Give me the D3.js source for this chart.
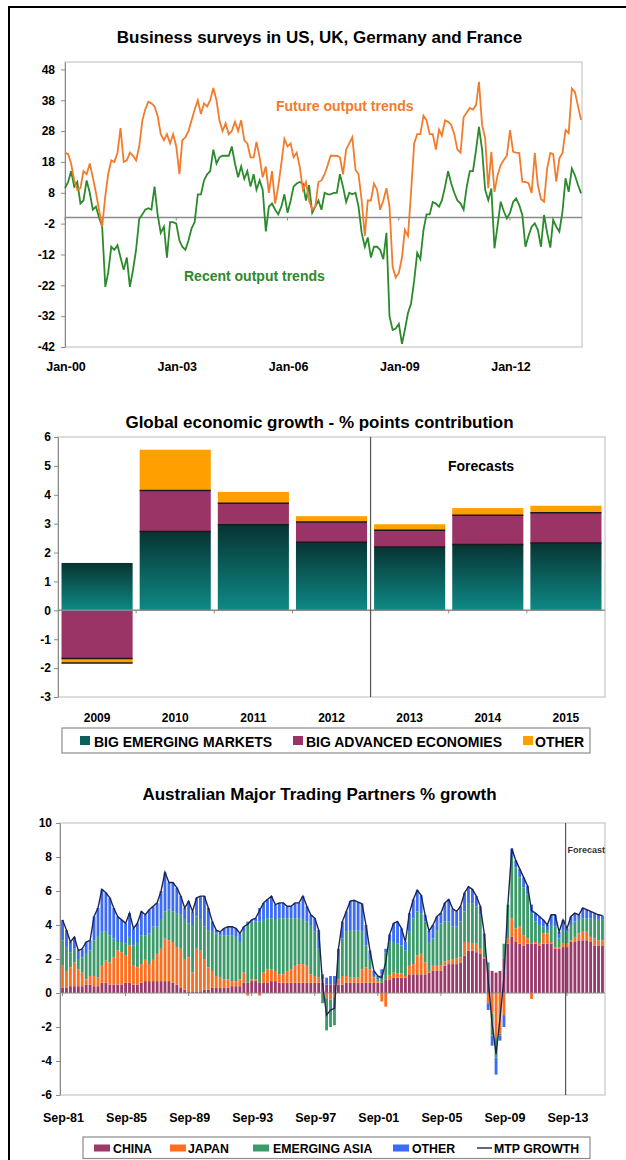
<!DOCTYPE html>
<html>
<head>
<meta charset="utf-8">
<script src="https://cdn.jsdelivr.net/npm/d3@7"></script>
<style>
  body { margin: 0; background: #fff; }
  svg { display: block; }
  text { font-family: "Liberation Sans", Arial, sans-serif; font-weight: bold; fill: #000; }
</style>
</head>
<body>
<script>

// business surveys, monthly values starting Jan-00
var surveyStart = new Date(2000, 0, 1);
var futureOutput = [
  21, 20.5, 17.5, 12, 9, 9.5, 15, 14, 17.5, 13,
  8, 2.5, -3, 7, 14, 18.5, 18, 21, 29, 18,
  18.5, 21, 20, 18.5, 23, 31.5, 35, 37.5, 37, 36,
  33, 27, 25, 27, 24, 27, 23, 14, 25, 26,
  28, 31.5, 35, 38, 33.5, 37, 36, 38, 42, 38,
  31.5, 28, 30.5, 27, 28, 31, 28, 31.5, 25, 24,
  19.5, 19.5, 24.5, 19.5, 13, 16.5, 8, 15, 4.5, 10,
  17.5, 25.5, 23, 24, 19.5, 21, 16.5, 9, 11.5, 5.5,
  2.5, 3.5, 11.5, 12, 14, 17, 20, 20, 20, 19.5,
  14, 22, 24, 26, 15.5, 14, 5.5, -6, 5.5, 5.5,
  11, 9, 2.5, 5.5, 9.5, 3.5, -16, -19.5, -18, -13,
  -4, -6, 8, 24, 27, 27, 33, 31.5, 27, 27,
  22, 28.5, 26.5, 31.5, 31, 30, 27, 22, 21, 32.5,
  34, 35.5, 35, 36.5, 44, 30, 25.7, 9.5, 21.3, 8.3,
  13.8, 17, 18.6, 20, 28.3, 21.3, 21, 20.9, 11.6, 11.5,
  11.1, 7.9, 20.9, 10.5, 6, 5.1, 15.9, 20.9, 20.5, 11.6,
  19.2, 20.9, 28.3, 27.3, 41.8, 40.7, 36, 31.6
];
var recentOutput = [
  9.5, 11.5, 15, 10, 11.5, 4.5, 5.5, 12, 8, 2.5,
  3.5, 0, -3, -22.5, -18, -9.5, -10.5, -9, -13, -17,
  -13, -22.5, -17, -10.5, -0.5, 1, 2.5, 3, 2.5, 10,
  1, -5, -3, -13, -1.5, -1.5, -2, -7.5, -9.5, -10.5,
  -7.5, -3.5, -1.5, 7.5, 7.5, 12, 14, 15, 22, 17.5,
  19.5, 20, 20, 20, 23, 17.5, 13, 16.5, 12.5, 15,
  10, 14, 9, 12, 9, -4.5, 3.5, 4.5, 2.5, 1,
  3.5, 7.5, 1.5, 5.5, 10, 11, 11.5, 11, 5.5, 10.5,
  1.5, 3.5, 5.5, 2.5, 8, 7.5, 7.5, 8, 8, 14,
  10, 5, 8, 7.5, 8, 3.5, -5, -9.5, -6.5, -13,
  -9.5, -9.5, -10.5, -13.5, -5, -32, -36.5, -36, -34.5, -41,
  -36.5, -31, -28, -20.5, -11.5, -13.5, -4, 1, 1, 5,
  4.5, 3.5, 5.5, 10, 15, 11, 8, 5.5, 4.5, 2.5,
  10, 15, 15, 22, 29.4, 22, 9, 5.6, 9.4, -10,
  -2.5, 5.1, 2, -0.3, 1.5, 5, 6.2, 4, 0.8, -9.5,
  -6, -3, -1.9, -4, -9.5, 0.8, -5, -9.8, -0.8, -3,
  -4.6, 2, 12.7, 8.3, 15.9, 13.7, 10.5, 7.8
];
var surveyTickYears = [2000, 2003, 2006, 2009, 2012];
var surveyYTicks = [-42, -32, -22, -12, -2, 8, 18, 28, 38, 48];

// global growth, % points contribution
var growthYears = ["2009", "2010", "2011", "2012", "2013", "2014", "2015"];
var bigEmerging = [1.64, 2.73, 2.96, 2.36, 2.19, 2.28, 2.33];
var bigAdvanced = [-1.67, 1.42, 0.75, 0.70, 0.58, 1.01, 1.05];
var otherEconomies = [-0.15, 1.41, 0.39, 0.20, 0.21, 0.25, 0.24];
var growthYTicks = [-3, -2, -1, 0, 1, 2, 3, 4, 5, 6];

// australian major trading partners, quarterly from Sep-81
var mtpStart = new Date(1981, 8, 1);
var mtpChina = [
  .3, .3, .4, .4, .4, .4, .5, .5, .4, .4, .6, .6, .5, .5, .5, .5, .6, .6, .5, .5,
  .6, .7, .7, .7, .7, .7, .7, .7, .6, .5, .3, .2, .1, .1, .1, .1,
  .2, .2, .3, .3, .3, .3, .3, .4, .4, .4, .6, .6, .7, .7, .6, .6, .6, .7, .7, .6,
  .6, .6, .6, .6, .6, .6, .6, .6, .6, .6,
  .6, .5, .5, .5, .5, .5, .6, .6,
  .6, .6, .6, .6, .6, .6, .6, .6, .8, .8, .9, .9, .9, .9, 1.1, 1.1, 1.1, 1.1, 1.1,
  1.2, 1.3, 1.3, 1.3, 1.6, 1.7, 1.7, 1.7, 1.8, 2.2, 2.5, 2.5, 2.4, 2.3, 2.0,
  1.4, 1.3, 1.2, 1.3, 2.0, 2.9, 3.3, 3.0, 2.9, 2.8, 2.9, 2.9,
  2.9, 2.8, 2.9, 2.9, 2.9, 2.6, 2.6, 2.7, 2.7, 3.0, 3.0, 3.1, 3.1, 3.1, 3.0, 2.8, 2.8, 2.8
];
var mtpJapan = [
  1.3, 1.0, 1.1, 1.4, 1.0, .8, .3, .5, .6, .5, 1.0, 1.3, 1.3, 1.6, 2.0, 1.9, 1.6, 2.2, 1.1, 1.0,
  1.1, 1.3, 1.0, 1.3, 1.6, 1.9, 2.5, 2.4, 2.4, 2.2, 2.3, 1.8, 2.0, 1.1, 2.5, 2.4,
  1.8, 1.3, 1.0, .7, .6, .5, .5, .3, .3, .4, .6, -.15, .1, .1, -.15, .6, .8, .7, .6, .5,
  .5, .7, .8, 1.0, 1.1, 1.1, 1.0, .5, .4, .3,
  .2, -.3, -.4, -.2, .3, .5, .4, .3,
  .3, .3, .8, .9, .8, .3, .1, -.5, -.8, .25, .3, .25, .25, .1, .5, .6, 1.1, 1.2, .7,
  .1, .3, .3, .3, .25, .2, .3, .35, .3, .8, .5, .4, .5, .3, .1,
  -.6, -1.2, -2.6, -2.4, -1.3, .3, 1.1, .8, 1.0, .6, .3, -.35,
  .1, .1, .6, .6, .1, .1, .1, .2, .2, .1, .3, .4, .5, .5, .3, .4, .3, .3
];
var mtpEmergingAsia = [
  1.5, 1.4, .9, .8, .6, .9, 1.5, 1.5, 2.1, 2.4, 2.0, 1.7, 1.6, 1.1, .5, .6, .7, .5, 1.2, 1.5,
  1.7, 1.4, 1.8, 1.9, 1.6, 1.7, 1.6, 1.8, 1.8, 2.0, 2.0, 2.3, 2.0, 2.8, 1.9, 1.8,
  1.9, 2.2, 2.3, 2.5, 2.5, 2.6, 2.6, 2.7, 2.6, 2.2, 2.4, 3.4, 3.4, 3.4, 3.6, 3.1, 3.0, 3.0, 3.0, 3.3,
  3.3, 3.1, 3.0, 2.8, 2.7, 2.6, 2.6, 2.9, 2.6, 1.7,
  -.6, -1.9, -1.6, -1.7, 1.2, 2.2, 2.6, 2.8,
  2.8, 2.8, 2.2, 1.3, .6, .1, .1, .5, 1.6, 2.0, 1.8, 1.75, 1.65, 1.5, 2.0, 2.7, 2.6, 2.4, 2.4,
  1.7, 1.6, 2.1, 2.5, 2.35, 2.3, 1.9, 1.85, 2.1, 1.8, 2.25, 2.35, 2.2, 2.0, 1.2,
  .4, -1.3, -1.2, -.1, .9, 2.0, 3.6, 3.6, 2.9, 2.8, 2.6, 1.8,
  1.2, 1.1, .4, .2, 1.0, 1.2, .5, .8, .7, .9, .9, .8, .8, .8, 1.1, 1.1, 1.2, 1.2
];
var mtpOther = [
  1.2, 1.0, .6, .7, .5, .5, .7, .6, 1.4, 1.7, 2.5, 2.3, 2.2, 1.8, 1.5, 1.3, 1.2, 1.4, 1.0, 1.1,
  1.4, 1.2, 1.4, 1.2, 1.4, 1.7, 2.3, 1.6, 1.7, 1.5, 1.1, .7, 1.3, .8, 1.1, 1.4,
  1.8, 1.3, .6, .2, .2, .4, .5, .5, .5, .5, .3, .2, .1, .2, .8, 1.0, 1.1, 1.3, .9, .9,
  .9, .7, .7, .9, .9, 1.4, .9, .6, .8, 1.1,
  .3, .4, .5, .5, .6, 1.0, 1.2, 1.7,
  1.75, 1.65, 1.65, 1.2, .5, .3, .2, .3, .2, .4, 1.1, 1.3, 1.0, .5, 1.1, 1.1, 1.25, 1.05, .4,
  .65, .8, .8, .6, 1.1, 1.3, 1.05, .9, .9, 1.1, 1.0, .85, .6, .5, .2,
  -.4, -.6, -1.0, -.3, -.7, 0, .5, .4, .5, .6, .5, .5,
  .5, .5, .4, .3, .6, .7, .4, .6, .2, .5, .5, .3, .6, .5, .4, .4, .3, .25
];
var mtpTickLabels = ["Sep-81", "Sep-85", "Sep-89", "Sep-93", "Sep-97", "Sep-01", "Sep-05", "Sep-09", "Sep-13"];
var mtpForecastFrom = "Sep-13";
var mtpYTicks = [-6, -4, -2, 0, 2, 4, 6, 8, 10];


var svg = d3.select("body")
            .append("svg")
            .attr("width", 626)
            .attr("height", 1160);

// frame round the whole picture
svg.append("path")
   .attr("d", "M9,1160V7H626")
   .attr("fill", "none")
   .attr("stroke", "#000")
   .attr("stroke-width", 2);

function title(txt, y) {
  svg.append("text")
     .attr("x", 319.5)
     .attr("y", y)
     .attr("text-anchor", "middle")
     .style("font-size", "17px")
     .text(txt);
}

// draws the plot box and the left axis with excel-ish styling
function leftAxis(yScale, ticks, left, right, pad) {
  var r = yScale.range();
  svg.append("rect")
     .attr("x", left)
     .attr("y", r[1])
     .attr("width", right - left)
     .attr("height", r[0] - r[1])
     .attr("fill", "none")
     .attr("stroke", "#d2d2d2")
     .attr("stroke-width", 1.5);

  var g = svg.append("g")
     .attr("transform", "translate(" + left + ",0)")
     .call(d3.axisLeft(yScale)
             .tickValues(ticks)
             .tickSize(4)
             .tickPadding(pad)
             .tickSizeOuter(0)
             .tickFormat(function(d) { return String(d); }));
  g.select(".domain").attr("stroke", "#8a8a8a");
  g.selectAll(".tick line").attr("stroke", "#8a8a8a");
  g.selectAll(".tick text")
   .style("font-size", "12px")
   .style("font-family", "'Liberation Sans', Arial, sans-serif")
   .style("font-weight", "bold")
   .attr("fill", "#000");
}


// ---------------- chart 1: business surveys ----------------
title("Business surveys in US, UK, Germany and France", 43);

var surveyX = d3.scaleTime()
                .domain([surveyStart, new Date(2013, 11, 10)])
                .range([65, 582]);
var surveyY = d3.scaleLinear()
                .domain([-42, 50.4])
                .range([347, 62]);

leftAxis(surveyY, surveyYTicks, 65, 582, 6);

// zero line with small ticks
svg.append("line")
   .attr("x1", 65).attr("x2", 582)
   .attr("y1", surveyY(0)).attr("y2", surveyY(0))
   .attr("stroke", "#8a8a8a").attr("stroke-width", 1.5);

surveyTickYears.forEach(function(yr) {
  var d = new Date(yr, 0, 1);
  svg.append("line")
     .attr("x1", surveyX(d)).attr("x2", surveyX(d))
     .attr("y1", surveyY(0)).attr("y2", surveyY(0) + 3)
     .attr("stroke", "#8a8a8a");
  svg.append("text")
     .attr("x", surveyX(d) + 1)
     .attr("y", 371)
     .attr("text-anchor", "middle")
     .style("font-size", "12.5px")
     .text(d3.timeFormat("%b-%y")(d));
});

var surveyLine = d3.line()
                   .x(function(d, i) { return surveyX(d3.timeMonth.offset(surveyStart, i)); })
                   .y(function(d) { return surveyY(d); });

svg.append("path")
   .datum(recentOutput)
   .attr("d", surveyLine)
   .attr("fill", "none")
   .attr("stroke", "#2b8a2b")
   .attr("stroke-width", 1.8);

svg.append("path")
   .datum(futureOutput)
   .attr("d", surveyLine)
   .attr("fill", "none")
   .attr("stroke", "#f27b2c")
   .attr("stroke-width", 1.8);

svg.append("text")
   .attr("x", 276).attr("y", 111)
   .style("font-size", "14px")
   .style("fill", "#f27b2c")
   .text("Future output trends");

svg.append("text")
   .attr("x", 184).attr("y", 281)
   .style("font-size", "14px")
   .style("fill", "#2b8a2b")
   .text("Recent output trends");


// ---------------- chart 2: global growth ----------------
title("Global economic growth - % points contribution", 427.7);

var growthX = d3.scaleBand()
                .domain(growthYears)
                .range([58, 605])
                .paddingInner(0.09)
                .paddingOuter(0.045);
var growthY = d3.scaleLinear()
                .domain([-3, 6])
                .range([697, 437]);

leftAxis(growthY, growthYTicks, 58, 605, 3);

var growthRows = growthYears.map(function(yr, i) {
  return { year: yr, emerging: bigEmerging[i], advanced: bigAdvanced[i], other: otherEconomies[i] };
});
var growthKeys = ["emerging", "advanced", "other"];
var growthStack = d3.stack()
                    .keys(growthKeys)
                    .offset(d3.stackOffsetDiverging)(growthRows);

// dark to teal gradient for the emerging markets bars
var defs = svg.append("defs");
var grad = defs.append("linearGradient")
               .attr("id", "emergingGrad")
               .attr("x1", 0).attr("y1", 0)
               .attr("x2", 0).attr("y2", 1);
grad.append("stop").attr("offset", "0%").attr("stop-color", "#073432");
grad.append("stop").attr("offset", "100%").attr("stop-color", "#0e8a86");

var growthFill = { emerging: "url(#emergingGrad)", advanced: "#9b3466", other: "#ffa000" };

growthStack.forEach(function(layer) {
  svg.append("g")
     .selectAll("rect")
     .data(layer)
     .enter()
     .append("rect")
     .attr("x", function(d) { return growthX(d.data.year); })
     .attr("width", growthX.bandwidth())
     .attr("y", function(d) { return growthY(Math.max(d[0], d[1])); })
     .attr("height", function(d) { return Math.abs(growthY(d[0]) - growthY(d[1])); })
     .attr("fill", growthFill[layer.key]);
});

// thin dark lines where the segments meet
growthStack.slice(1).forEach(function(layer) {
  svg.append("g")
     .selectAll("line")
     .data(layer.filter(function(d) { return d[0] !== 0; }))
     .enter()
     .append("line")
     .attr("x1", function(d) { return growthX(d.data.year); })
     .attr("x2", function(d) { return growthX(d.data.year) + growthX.bandwidth(); })
     .attr("y1", function(d) { return growthY(d[0]); })
     .attr("y2", function(d) { return growthY(d[0]); })
     .attr("stroke", "#1a1a1a")
     .attr("stroke-width", 1.5);
});

svg.append("line")
   .attr("x1", 58).attr("x2", 605)
   .attr("y1", growthY(0)).attr("y2", growthY(0))
   .attr("stroke", "#8a8a8a").attr("stroke-width", 1.5);

growthYears.forEach(function(yr, i) {
  if (i > 0) {
    var bx = growthX(yr) - growthX.step() * growthX.paddingInner() / 2;
    svg.append("line")
       .attr("x1", bx).attr("x2", bx)
       .attr("y1", growthY(0)).attr("y2", growthY(0) + 3)
       .attr("stroke", "#8a8a8a");
  }
  svg.append("text")
     .attr("x", growthX(yr) + growthX.bandwidth() / 2)
     .attr("y", 721.7)
     .attr("text-anchor", "middle")
     .style("font-size", "12px")
     .text(yr);
});

// forecasts divider
var divX = growthX("2013") - growthX.step() * growthX.paddingInner() / 2;
svg.append("line")
   .attr("x1", divX).attr("x2", divX)
   .attr("y1", growthY(6)).attr("y2", growthY(-3))
   .attr("stroke", "#555").attr("stroke-width", 1.2);

svg.append("text")
   .attr("x", 448).attr("y", 470.7)
   .style("font-size", "14px")
   .text("Forecasts");

// legend
svg.append("rect")
   .attr("x", 62).attr("y", 728)
   .attr("width", 528).attr("height", 25)
   .attr("fill", "#fff")
   .attr("stroke", "#8c8c8c")
   .attr("stroke-width", 1.2);

var growthLegend = [
  { label: "BIG EMERGING MARKETS", fill: "#0b5f5c", kx: 80, tx: 94 },
  { label: "BIG ADVANCED ECONOMIES", fill: "#9b3466", kx: 293, tx: 306 },
  { label: "OTHER", fill: "#ffa000", kx: 523, tx: 535 }
];
growthLegend.forEach(function(item) {
  svg.append("rect")
     .attr("x", item.kx).attr("y", 736)
     .attr("width", 10).attr("height", 9)
     .attr("fill", item.fill);
  svg.append("text")
     .attr("x", item.tx).attr("y", 746.5)
     .style("font-size", "14px")
     .text(item.label);
});


// ---------------- chart 3: major trading partners ----------------
title("Australian Major Trading Partners % growth", 800);

var quarterFmt = d3.timeFormat("%b-%y");
var mtpRows = mtpChina.map(function(v, i) {
  return {
    quarter: quarterFmt(d3.timeMonth.offset(mtpStart, 3 * i)),
    china: mtpChina[i],
    japan: mtpJapan[i],
    emasia: mtpEmergingAsia[i],
    other: mtpOther[i]
  };
});

var mtpX = d3.scaleBand()
             .domain(mtpRows.map(function(d) { return d.quarter; }))
             .range([60, 605])
             .padding(0.28);
var mtpY = d3.scaleLinear()
             .domain([-6, 10])
             .range([1095, 823]);

leftAxis(mtpY, mtpYTicks, 60, 605, 4);

var mtpKeys = ["china", "japan", "emasia", "other"];
var mtpColor = { china: "#993a6b", japan: "#ff6d1f", emasia: "#3c9b6b", other: "#3b6cf3" };
var mtpStack = d3.stack()
                 .keys(mtpKeys)
                 .offset(d3.stackOffsetDiverging)(mtpRows);

mtpStack.forEach(function(layer) {
  svg.append("g")
     .selectAll("rect")
     .data(layer)
     .enter()
     .append("rect")
     .attr("x", function(d) { return mtpX(d.data.quarter); })
     .attr("width", mtpX.bandwidth())
     .attr("y", function(d) { return mtpY(Math.max(d[0], d[1])); })
     .attr("height", function(d) { return Math.abs(mtpY(d[0]) - mtpY(d[1])); })
     .attr("fill", mtpColor[layer.key]);
});

svg.append("line")
   .attr("x1", 60).attr("x2", 605)
   .attr("y1", mtpY(0)).attr("y2", mtpY(0))
   .attr("stroke", "#8a8a8a").attr("stroke-width", 1.2);

// MTP growth line, the net total of the four parts
var mtpLine = d3.line()
                .x(function(d) { return mtpX(d.quarter) + mtpX.bandwidth() / 2; })
                .y(function(d) { return mtpY(d.china + d.japan + d.emasia + d.other); });

svg.append("path")
   .datum(mtpRows)
   .attr("d", mtpLine)
   .attr("fill", "none")
   .attr("stroke", "#1f2550")
   .attr("stroke-width", 1.4);

mtpTickLabels.forEach(function(lab) {
  var cx = mtpX(lab) + mtpX.bandwidth() / 2;
  svg.append("line")
     .attr("x1", cx).attr("x2", cx)
     .attr("y1", mtpY(0)).attr("y2", mtpY(0) + 3)
     .attr("stroke", "#8a8a8a");
  svg.append("text")
     .attr("x", cx + 1)
     .attr("y", 1121.7)
     .attr("text-anchor", "middle")
     .style("font-size", "12.5px")
     .text(lab);
});

var fcX = mtpX(mtpForecastFrom);
svg.append("line")
   .attr("x1", fcX).attr("x2", fcX)
   .attr("y1", mtpY(10)).attr("y2", mtpY(-6))
   .attr("stroke", "#555").attr("stroke-width", 1.2);

svg.append("text")
   .attr("x", fcX + 2).attr("y", 853)
   .style("font-size", "9px")
   .style("fill", "#333")
   .text("Forecast");

// legend
svg.append("rect")
   .attr("x", 83).attr("y", 1137)
   .attr("width", 507).attr("height", 21.5)
   .attr("fill", "#fff")
   .attr("stroke", "#8c8c8c")
   .attr("stroke-width", 1.2);

var mtpLegend = [
  { label: "CHINA", key: "china", kx: 94, tx: 113 },
  { label: "JAPAN", key: "japan", kx: 170, tx: 188 },
  { label: "EMERGING ASIA", key: "emasia", kx: 253, tx: 273 },
  { label: "OTHER", key: "other", kx: 393, tx: 412 }
];
mtpLegend.forEach(function(item) {
  svg.append("rect")
     .attr("x", item.kx).attr("y", 1144.5)
     .attr("width", 16).attr("height", 7)
     .attr("fill", mtpColor[item.key]);
  svg.append("text")
     .attr("x", item.tx).attr("y", 1152.5)
     .style("font-size", "12.3px")
     .text(item.label);
});
svg.append("line")
   .attr("x1", 477).attr("x2", 492)
   .attr("y1", 1148).attr("y2", 1148)
   .attr("stroke", "#1f2550").attr("stroke-width", 1.4);
svg.append("text")
   .attr("x", 494).attr("y", 1152.5)
   .style("font-size", "12.3px")
   .text("MTP GROWTH");

</script>
</body>
</html>
